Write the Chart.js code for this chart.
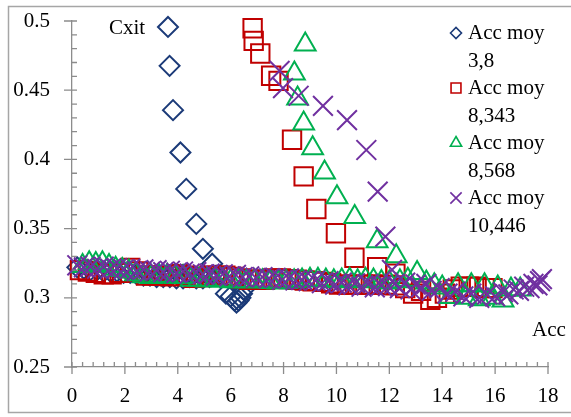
<!DOCTYPE html>
<html>
<head>
<meta charset="utf-8">
<script src="https://cdn.jsdelivr.net/npm/chart.js@4.4.1/dist/chart.umd.min.js"></script>
<style>
html, body { margin: 0; padding: 0; background: #fff; }
#wrap { width: 571px; height: 417px; position: relative; }
</style>
</head>
<body>
<div id="wrap"><canvas id="cxit"></canvas></div>
<script>
const acc38X = [0.2, 0.45, 0.7, 0.95, 1.2, 1.45, 1.7, 1.95, 2.2, 2.45, 2.7, 2.95, 3.2, 3.45, 3.7, 3.95, 4.2, 4.45, 4.7, 4.95, 5.2, 5.45,
  5.82, 6.0, 6.15, 6.22, 6.3, 6.37, 6.43, 6.5,
  5.55, 5.3, 4.95, 4.7, 4.32, 4.1, 3.82, 3.69, 3.63];
const acc38Y = [0.322, 0.321, 0.320, 0.320, 0.319, 0.319, 0.319, 0.318, 0.318, 0.317, 0.316, 0.316, 0.315, 0.315, 0.315, 0.314, 0.314, 0.315, 0.314, 0.314, 0.315, 0.316,
  0.303, 0.301, 0.298, 0.2965, 0.298, 0.300, 0.303, 0.306,
  0.316, 0.3246, 0.3354, 0.3534, 0.3787, 0.405, 0.4356, 0.4676, 0.4957];

const acc8343X = [0.3, 0.6, 0.9, 1.2, 1.5, 1.8, 2.2, 2.5, 2.8, 3.1, 3.4, 3.7, 4.0, 4.3, 4.6, 4.9, 5.2, 5.5, 5.8, 6.1, 6.4, 6.7, 7.0, 7.3, 7.6, 7.9,
  8.2, 8.5, 8.8, 9.1, 9.5, 9.8, 10.1, 10.4, 10.7, 11.0, 11.3, 11.6, 11.9, 12.2, 12.6, 12.9, 13.2, 13.55, 13.8, 14.1, 14.4, 14.7, 15.0, 15.3, 15.6, 15.9,
  6.83, 6.87, 7.12, 7.53, 7.81, 8.32, 8.76, 9.24, 9.98, 10.68, 11.54, 12.23];
const acc8343Y = [0.320, 0.319, 0.318, 0.317, 0.317, 0.318, 0.3215, 0.319, 0.316, 0.316, 0.316, 0.3155, 0.317, 0.316, 0.3145, 0.315, 0.316, 0.316, 0.316, 0.315, 0.314, 0.313, 0.313, 0.313, 0.314, 0.314,
  0.3135, 0.313, 0.3125, 0.312, 0.3115, 0.3105, 0.3095, 0.3095, 0.3095, 0.3095, 0.3095, 0.3095, 0.3095, 0.309, 0.307, 0.303, 0.305, 0.2985, 0.300, 0.303, 0.306, 0.308, 0.308, 0.308, 0.307, 0.307,
  0.4948, 0.4856, 0.4765, 0.4604, 0.4567, 0.4142, 0.3877, 0.3642, 0.3466, 0.3289, 0.3221, 0.3174];

const acc8568X = [0.4, 0.65, 0.9, 1.15, 1.4, 1.65, 1.9, 2.15, 2.4, 2.7, 3.0, 3.3, 3.6, 3.9, 4.2, 4.5, 4.8, 5.1, 5.4, 5.7, 6.0, 6.3, 6.6, 6.9, 7.2, 7.5, 7.8,
  8.1, 8.4, 8.7, 9.0, 9.3, 9.6, 9.9, 10.2, 10.5, 10.8, 11.1, 11.4, 11.7, 12.0, 12.4, 12.7, 13.4, 13.7, 14.0, 14.3, 14.6, 14.9, 15.1, 15.4, 15.6, 15.9, 16.1, 16.3, 16.6, 16.95,
  8.82, 8.41, 8.53, 8.76, 9.10, 9.55, 10.02, 10.69, 11.54, 12.26, 13.05];
const acc8568Y = [0.323, 0.325, 0.3245, 0.325, 0.323, 0.321, 0.320, 0.319, 0.317, 0.3155, 0.315, 0.3155, 0.316, 0.315, 0.315, 0.313, 0.313, 0.3125, 0.313, 0.3125, 0.312, 0.312, 0.312, 0.312, 0.312, 0.3115, 0.311,
  0.3115, 0.312, 0.3125, 0.313, 0.313, 0.3125, 0.312, 0.3125, 0.313, 0.312, 0.313, 0.3125, 0.3115, 0.311, 0.312, 0.313, 0.311, 0.309, 0.3075, 0.3005, 0.309, 0.300, 0.309, 0.299, 0.309, 0.300, 0.3075, 0.298, 0.306, 0.306,
  0.483, 0.462, 0.444, 0.426, 0.408, 0.3906, 0.3727, 0.3583, 0.3408, 0.330, 0.318];

const acc10446X = [0.2, 0.45, 0.7, 0.95, 1.2, 1.45, 1.7, 1.95, 2.2, 2.45, 2.7, 2.95, 3.2, 3.45, 3.7, 3.95, 4.2, 4.45, 4.7, 4.95, 5.2, 5.45, 5.7, 5.95,
  6.2, 6.45, 6.7, 6.95, 7.2, 7.45, 7.7, 7.95, 8.2, 8.45, 8.7, 8.95, 9.2, 9.45, 9.7, 9.95, 10.2, 10.45, 10.7, 10.95, 11.2, 11.45, 11.7, 11.95,
  12.2, 12.4, 12.6, 12.8, 13.0, 13.2, 13.4, 13.6, 13.9, 14.2, 14.5, 14.8, 15.1, 15.4, 15.7, 16.0, 16.3, 16.5, 16.7, 16.9, 17.1, 17.3, 17.45, 17.6, 17.7, 17.77,
  7.85, 7.98, 8.57, 9.49, 10.40, 11.13, 11.56, 11.85, 12.1];
const acc10446Y = [0.3235, 0.322, 0.3225, 0.321, 0.3225, 0.321, 0.3215, 0.3205, 0.321, 0.3195, 0.3205, 0.319, 0.320, 0.3185, 0.3195, 0.318, 0.319, 0.3175, 0.3185, 0.317, 0.3175, 0.316, 0.317, 0.3155,
  0.3165, 0.315, 0.3155, 0.3145, 0.315, 0.314, 0.3145, 0.313, 0.314, 0.3125, 0.313, 0.312, 0.3125, 0.3105, 0.312, 0.3095, 0.311, 0.309, 0.3105, 0.308, 0.310, 0.3075, 0.309, 0.3085,
  0.310, 0.307, 0.311, 0.306, 0.3095, 0.3075, 0.310, 0.305, 0.307, 0.303, 0.3045, 0.301, 0.303, 0.300, 0.3025, 0.301, 0.304, 0.3025, 0.306, 0.305, 0.308, 0.307, 0.310, 0.309, 0.312, 0.3135,
  0.464, 0.4515, 0.446, 0.4387, 0.4284, 0.4068, 0.3767, 0.3442, 0.3202];

const seriesNames = [['Acc moy', '3,8'], ['Acc moy', '8,343'], ['Acc moy', '8,568'], ['Acc moy', '10,446']];
const xTicks = [0, 2, 4, 6, 8, 10, 12, 14, 16, 18];
const yTicks = [0.25, 0.3, 0.35, 0.4, 0.45, 0.5];

const FONT = '"Liberation Serif", "DejaVu Serif", serif';
const AXIS = '#8c8c8c';
const NONE = 'rgba(0,0,0,0)';

function pts(xs, ys) {
  return xs.map((x, i) => ({ x: x, y: ys[i] }));
}

const styles = [
  { color: '#1b3a78', shape: 'rectRot', r: 10, lr: 5.5 },
  { color: '#c00000', shape: 'rect', r: 13, lr: 7 },
  { color: '#00b050', shape: 'triangle', r: 12, lr: 6.5 },
  { color: '#7030a0', shape: 'crossRot', r: 14, lr: 8 }
];
const allData = [pts(acc38X, acc38Y), pts(acc8343X, acc8343Y), pts(acc8568X, acc8568Y), pts(acc10446X, acc10446Y)];
const drawOrder = [4, 3, 2, 1];

// frame, tick marks, axis names and the two-line legend
const extras = {
  id: 'extras',
  afterDraw(chart) {
    const ctx = chart.ctx;
    const xs = chart.scales.x, ys = chart.scales.y;
    ctx.save();
    ctx.strokeStyle = '#a6a6a6';
    ctx.lineWidth = 1.5;
    ctx.beginPath();
    ctx.moveTo(580, 6.5); ctx.lineTo(8.5, 6.5); ctx.lineTo(8.5, 412.5); ctx.lineTo(580, 412.5);
    ctx.stroke();

    ctx.strokeStyle = AXIS;
    ctx.lineWidth = 1.3;
    const ax = xs.left, ay = ys.bottom;
    ctx.beginPath();
    xTicks.forEach(v => { const p = xs.getPixelForValue(v); ctx.moveTo(p, ay - 5); ctx.lineTo(p, ay + 7); });
    for (let v = 0.4; v < 18; v += 0.4) {
      if (Math.abs(v / 2 - Math.round(v / 2)) < 1e-6) continue;
      const p = xs.getPixelForValue(v); ctx.moveTo(p, ay); ctx.lineTo(p, ay - 5);
    }
    yTicks.forEach(v => { const p = ys.getPixelForValue(v); ctx.moveTo(ax - 8, p); ctx.lineTo(ax + 5, p); });
    for (let k = 26; k < 50; k++) {
      if (k % 5 === 0) continue;
      const p = ys.getPixelForValue(k / 100); ctx.moveTo(ax, p); ctx.lineTo(ax + 5, p);
    }
    ctx.stroke();

    ctx.fillStyle = '#000';
    ctx.font = '21px ' + FONT;
    ctx.textBaseline = 'middle';
    ctx.textAlign = 'center';
    ctx.fillText('Cxit', 127, 28);
    ctx.fillText('Acc', 549, 330);

    ctx.textAlign = 'left';
    seriesNames.forEach((lines, i) => {
      const y0 = 33 + 55 * i;
      const st = styles[i];
      ctx.fillStyle = NONE;
      ctx.strokeStyle = st.color;
      ctx.lineWidth = 1.6;
      Chart.helpers.drawPoint(ctx, { pointStyle: st.shape, radius: st.lr, rotation: 0, borderWidth: 1.6 }, 456, y0);
      ctx.fillStyle = '#000';
      ctx.fillText(lines[0], 468, y0);
      ctx.fillText(lines[1], 468, y0 + 28);
    });
    ctx.restore();
  }
};

new Chart(document.getElementById('cxit'), {
  type: 'scatter',
  data: {
    datasets: allData.map((d, i) => ({
      label: seriesNames[i].join(' '),
      data: d,
      order: drawOrder[i],
      clip: false,
      pointStyle: styles[i].shape,
      pointRadius: styles[i].r,
      borderColor: styles[i].color,
      backgroundColor: NONE,
      borderWidth: 2
    }))
  },
  options: {
    responsive: true,
    maintainAspectRatio: false,
    animation: false,
    events: [],
    layout: { autoPadding: false, padding: { top: 21, right: 23, bottom: 0, left: 0 } },
    plugins: { legend: { display: false }, tooltip: { enabled: false } },
    scales: {
      x: {
        type: 'linear',
        min: 0, max: 18,
        afterFit: s => { s.height = 50; },
        afterBuildTicks: s => { s.ticks = xTicks.map(v => ({ value: v })); },
        border: { display: true, color: AXIS, width: 1.3 },
        // invisible tick marks only push the labels down
        grid: { drawOnChartArea: false, color: NONE, tickColor: NONE, tickLength: 17 },
        ticks: { color: '#000', padding: 0, maxRotation: 0, font: { family: FONT, size: 21 } }
      },
      y: {
        type: 'linear',
        min: 0.25, max: 0.5,
        afterFit: s => { s.width = 72; },
        afterBuildTicks: s => { s.ticks = yTicks.map(v => ({ value: v })); },
        border: { display: true, color: AXIS, width: 1.3 },
        grid: { drawOnChartArea: false, color: NONE, tickColor: NONE, tickLength: 22 },
        ticks: {
          color: '#000', padding: 0, font: { family: FONT, size: 21 },
          callback: v => String(Math.round(v * 100) / 100)
        }
      }
    }
  },
  plugins: [extras]
});
</script>
</body>
</html>
